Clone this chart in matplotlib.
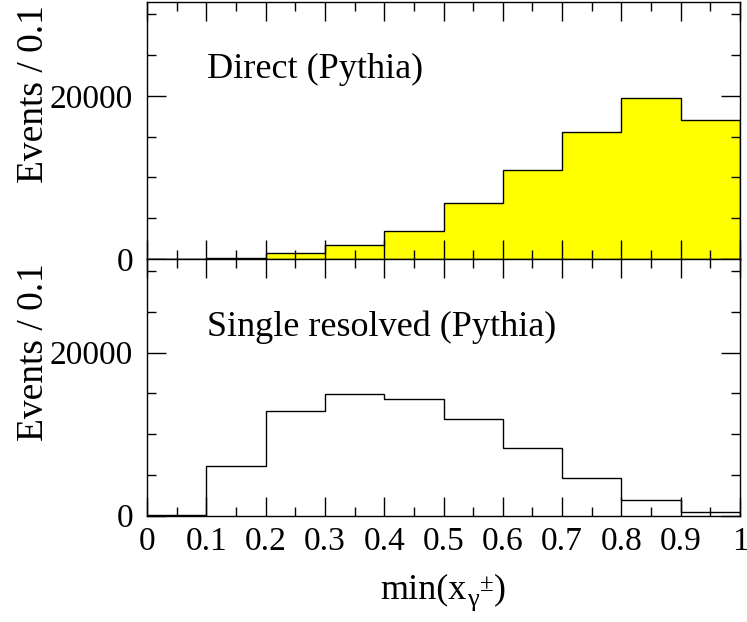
import matplotlib
matplotlib.use("Agg")
import matplotlib.pyplot as plt
from matplotlib.ticker import MultipleLocator, FuncFormatter

plt.rcParams['font.family'] = ['Liberation Serif', 'DejaVu Serif']

# ---- data ----
bin_edges = [0.0, 0.1, 0.2, 0.3, 0.4, 0.5, 0.6, 0.7, 0.8, 0.9, 1.0]
direct_counts = [30, 150, 700, 1700, 3470, 6830, 10960, 15620, 19720, 17090]
resolved_counts = [80, 6100, 12800, 14930, 14360, 11820, 8300, 4620, 1960, 490]
panel_titles = ["Direct (Pythia)", "Single resolved (Pythia)"]
ytitle = "Events / 0.1"
xtitle_parts = ["min(x", "\u03b3", "\u00b1", ")"]

W, H = 747, 622
fig = plt.figure(figsize=(W / 100, H / 100), dpi=100)

left, right = 147, 740
top1, mid, bot2 = 2, 259, 515.5

ax1 = fig.add_axes([left / W, 1 - mid / H, (right - left) / W, (mid - top1) / H])
ax2 = fig.add_axes([left / W, 1 - bot2 / H, (right - left) / W, (bot2 - mid) / H])

ymax = 31500

ax1.stairs(direct_counts, bin_edges, fill=True, color='#ffff00', zorder=1)
ax1.stairs(direct_counts, bin_edges, color='black', linewidth=1.0, zorder=2)
ax2.stairs(resolved_counts, bin_edges, color='black', linewidth=1.0, zorder=2)

fmt = FuncFormatter(lambda v, p: '%g' % v)
for ax in (ax1, ax2):
    ax.set_xlim(0, 1)
    ax.set_ylim(0, ymax)
    ax.xaxis.set_major_locator(MultipleLocator(0.1))
    ax.xaxis.set_minor_locator(MultipleLocator(0.05))
    ax.yaxis.set_major_locator(MultipleLocator(20000))
    ax.yaxis.set_minor_locator(MultipleLocator(5000))
    ax.yaxis.set_major_formatter(fmt)
    ax.xaxis.set_major_formatter(fmt)
    ax.tick_params(which='both', direction='in', top=True, right=True,
                   width=1.0, colors='black')
    ax.tick_params(which='major', length=13.5)
    ax.tick_params(which='minor', length=6.5)
    ax.tick_params(axis='y', which='major', labelsize=24, pad=10)
    ax.tick_params(axis='x', which='major', labelsize=24, pad=8)
    for s in ax.spines.values():
        s.set_linewidth(1.0)
        s.set_zorder(3)

ax1.tick_params(axis='x', labelbottom=False)

# panel titles
fig.text(207 / W, 1 - 78 / H, panel_titles[0], fontsize=26, va='baseline', ha='left')
fig.text(207 / W, 1 - 336 / H, panel_titles[1], fontsize=26, va='baseline', ha='left')

# y titles
for ytop in (5, 263):
    fig.text(43 / W, 1 - ytop / H, ytitle, fontsize=27, rotation=90,
             rotation_mode='anchor', ha='right', va='baseline')

# x title built from pieces: min(x, lowered gamma, raised +/-, closing bracket
renderer = fig.canvas.get_renderer()
base_y = 1 - 598 / H
sizes = [26, 19, 18, 26]
shifts = [0, -8, 7, 0]  # pixels relative to baseline
texts = []
widths = []
for s, fs, r in zip(xtitle_parts, sizes, shifts):
    t = fig.text(0, base_y + r / H, s, fontsize=fs, ha='left', va='baseline')
    texts.append(t)
    widths.append(t.get_window_extent(renderer=renderer).width)
gaps = [0, 1, 1]
total = sum(widths) + sum(gaps)
x = (left + right) / 2 - total / 2
for i, t in enumerate(texts):
    t.set_x(x / W)
    x += widths[i] + (gaps[i] if i < len(gaps) else 0)

fig.savefig("out.png", dpi=100)
